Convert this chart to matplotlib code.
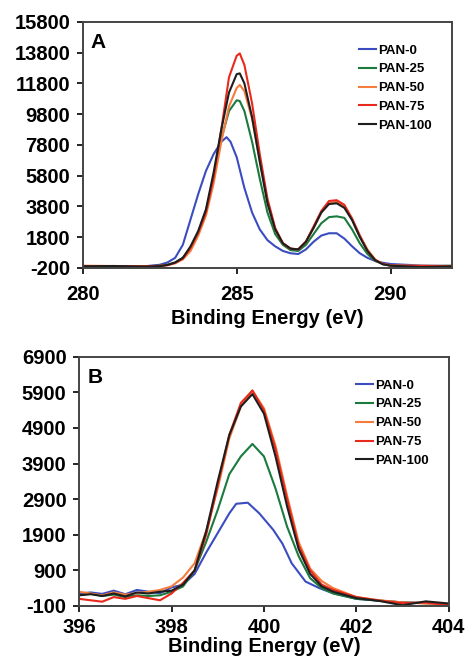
import numpy as np
import matplotlib
matplotlib.use("Agg")
import matplotlib.pyplot as plt

plt.rcParams['font.family'] = ['Liberation Sans', 'DejaVu Sans']
plt.rcParams['font.weight'] = 'bold'
plt.rcParams['axes.unicode_minus'] = False

labels = ['PAN-0', 'PAN-25', 'PAN-50', 'PAN-75', 'PAN-100']
colors = ['#3b4cc0', '#1b7a3e', '#f47c3c', '#e8291c', '#1e1e1e']

# ---- panel A (C 1s) ----
xa_0 = [280, 281, 282, 282.5, 282.75, 283, 283.25, 283.5, 283.75, 284, 284.25, 284.5, 284.67, 284.8,
        285, 285.25, 285.5, 285.75, 286, 286.25, 286.5, 286.75, 287, 287.25, 287.5, 287.75, 288,
        288.25, 288.5, 288.75, 289, 289.25, 289.5, 289.75, 290, 291, 292]
ya_0 = [-100, -120, -100, 0, 150, 450, 1300, 2950, 4600, 6100, 7200, 8000, 8300, 8000,
        7000, 5000, 3400, 2300, 1600, 1200, 900, 750, 700, 1000, 1500, 1900, 2050,
        2050, 1700, 1200, 750, 450, 250, 130, 50, -50, -80]

xa = [280, 281, 282, 282.5, 282.75, 283, 283.25, 283.5, 283.75, 284, 284.25, 284.5, 284.75, 285,
      285.1, 285.25, 285.5, 285.75, 286, 286.25, 286.5, 286.75, 287, 287.25, 287.5, 287.75, 288,
      288.25, 288.5, 288.75, 289, 289.25, 289.5, 289.75, 290, 291, 292]
ya_25 = [-100, -90, -110, -60, 0, 150, 450, 1100, 2100, 3500, 5700, 8200, 10000, 10700,
         10650, 10000, 8000, 5600, 3400, 2000, 1300, 950, 900, 1300, 2000, 2700, 3100,
         3150, 3050, 2300, 1400, 700, 250, 50, -50, -100, -60]
ya_50 = [-60, -80, -100, -80, -30, 100, 350, 900, 1900, 3200, 5300, 8000, 10300, 11500,
         11700, 11300, 9500, 6800, 4100, 2300, 1400, 1050, 1000, 1500, 2400, 3400, 4000,
         4100, 3800, 3000, 1900, 1000, 350, 50, -50, -60, -80]
ya_75 = [-80, -100, -90, -70, -20, 120, 400, 1100, 2100, 3400, 5700, 8800, 12200, 13600,
         13750, 13000, 10500, 7200, 4300, 2400, 1400, 1050, 1000, 1500, 2500, 3500, 4150,
         4200, 3900, 3000, 1900, 900, 300, 50, -50, -80, -100]
ya_100 = [-100, -80, -120, -90, -10, 150, 450, 1200, 2200, 3600, 6000, 8800, 11200, 12400,
          12450, 11800, 9600, 6700, 4000, 2300, 1400, 1050, 1000, 1500, 2400, 3400, 3950,
          4000, 3700, 2900, 1800, 900, 300, 30, -60, -150, -100]

# ---- panel B (N 1s) ----
xb_0 = [396, 396.25, 396.5, 396.75, 397, 397.25, 397.5, 397.75, 398, 398.25, 398.5, 398.75, 399,
        399.25, 399.4, 399.65, 399.9, 400.2, 400.4, 400.6, 400.9, 401.2, 401.5, 402, 402.5,
        403, 403.5, 404]
yb_0 = [250, 280, 240, 330, 230, 350, 300, 260, 420, 500, 800, 1400, 1950,
        2500, 2770, 2800, 2500, 2040, 1650, 1100, 585, 400, 256, 100, 50,
        0, -20, -50]

xb = [396, 396.25, 396.5, 396.75, 397, 397.25, 397.5, 397.75, 398, 398.25, 398.5, 398.75, 399,
      399.25, 399.5, 399.75, 400, 400.25, 400.5, 400.75, 401, 401.25, 401.5, 402, 402.5,
      403, 403.5, 404]
yb_25 = [200, 250, 180, 220, 150, 200, 180, 200, 300, 450, 900, 1700, 2600,
         3600, 4100, 4450, 4100, 3200, 2130, 1300, 680, 400, 250, 100, 50,
         0, -20, -50]
yb_50 = [300, 250, 200, 280, 220, 260, 300, 350, 450, 700, 1100, 2000, 3200,
         4600, 5500, 5950, 5450, 4400, 3000, 1700, 950, 600, 400, 150, 60,
         0, -30, -60]
yb_75 = [100, 60, 20, 150, 100, 180, 120, 60, 250, 550, 900, 1900, 3300,
         4700, 5600, 5950, 5400, 4300, 2900, 1600, 900, 500, 350, 150, 50,
         -20, 0, -80]
yb_100 = [200, 230, 180, 250, 170, 280, 250, 300, 330, 500, 900, 2000, 3400,
          4700, 5500, 5850, 5300, 4100, 2700, 1500, 800, 450, 300, 120, 40,
          -80, 30, -30]

fig = plt.figure(figsize=(4.68, 6.63), dpi=100)
ax1 = fig.add_axes([0.177, 0.596, 0.789, 0.371])
ax2 = fig.add_axes([0.169, 0.086, 0.790, 0.376])

for x, y, lab, c in zip([xa_0, xa, xa, xa, xa], [ya_0, ya_25, ya_50, ya_75, ya_100], labels, colors):
    ax1.plot(x, y, color=c, lw=1.5, label=lab)
for x, y, lab, c in zip([xb_0, xb, xb, xb, xb], [yb_0, yb_25, yb_50, yb_75, yb_100], labels, colors):
    ax2.plot(x, y, color=c, lw=1.5, label=lab)

ax1.set_xlim(280, 292)
ax1.set_ylim(-200, 15800)
ax1.set_xticks([280, 285, 290])
ax1.set_yticks(np.arange(-200, 15801, 2000))
ax1.text(0.02, 0.955, 'A', transform=ax1.transAxes, fontsize=15, fontweight='bold', va='top')

ax2.set_xlim(396, 404)
ax2.set_ylim(-100, 6900)
ax2.set_xticks([396, 398, 400, 402, 404])
ax2.set_yticks(np.arange(-100, 6901, 1000))
ax2.text(0.022, 0.955, 'B', transform=ax2.transAxes, fontsize=15, fontweight='bold', va='top')

for ax, xpad, lpad in ((ax1, 8, 4), (ax2, 5, 0)):
    ax.set_xlabel('Binding Energy (eV)', fontsize=14.5, fontweight='bold', labelpad=lpad)
    ax.tick_params(labelsize=14.5, direction='out', length=4, width=1.2)
    ax.tick_params(axis='x', pad=xpad)
    ax.tick_params(axis='y', pad=5)
    for lbl in ax.get_xticklabels() + ax.get_yticklabels():
        lbl.set_fontweight('bold')
    for sp in ax.spines.values():
        sp.set_linewidth(1.4)
        sp.set_color('#444444')
    ax.legend(loc='upper right', frameon=False, fontsize=9.5, handlelength=1.3,
              handletextpad=0.15, labelspacing=0.5, borderaxespad=0.0,
              bbox_to_anchor=(0.96, 0.93))

fig.savefig('out.png', dpi=100)
